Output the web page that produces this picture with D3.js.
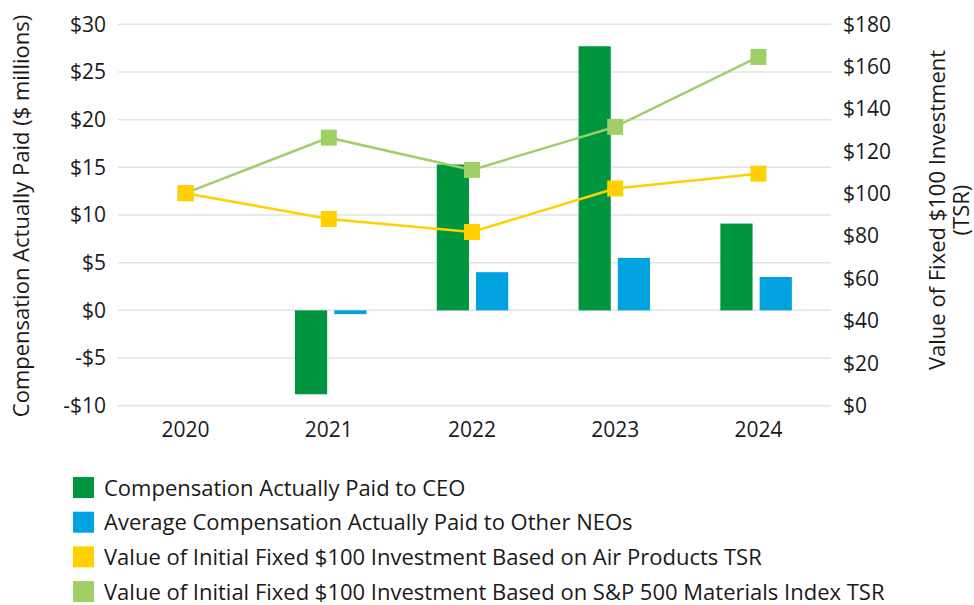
<!DOCTYPE html>
<html>
<head>
<meta charset="utf-8">
<script src="https://cdn.jsdelivr.net/npm/d3@7"></script>
<style>
  html, body { margin: 0; padding: 0; background: #ffffff; }
  svg { display: block; }
  text { font-family: "Open Sans", "Noto Sans", sans-serif; fill: #1a1a1a; }
</style>
</head>
<body>
<svg id="chart" width="974" height="605"></svg>
<script>
// Fiscal years shown on the category axis
const years = ["2020", "2021", "2022", "2023", "2024"];

// Compensation actually paid, $ millions (null = no bar)
const ceoPay = [null, -8.8, 15.3, 27.7, 9.1];
const neoPay = [null, -0.4, 4.0, 5.5, 3.5];

// Value of an initial fixed $100 investment
const apdTsr = [100.3, 88.1, 82.0, 102.5, 109.5];
const spMaterialsTsr = [100.3, 126.5, 111.3, 131.6, 164.6];

// Axis ticks
const leftTicks = [-10, -5, 0, 5, 10, 15, 20, 25, 30];
const rightTicks = [0, 20, 40, 60, 80, 100, 120, 140, 160, 180];

const legendItems = [
  "Compensation Actually Paid to CEO",
  "Average Compensation Actually Paid to Other NEOs",
  "Value of Initial Fixed $100 Investment Based on Air Products TSR",
  "Value of Initial Fixed $100 Investment Based on S&P 500 Materials Index TSR"
];

const colors = {
  ceo: "#00953f",
  neo: "#00a3e0",
  apd: "#ffd100",
  sp: "#a0cf67",
  grid: "#e3e3e3"
};
const legendColors = [colors.ceo, colors.neo, colors.apd, colors.sp];

const tickFont = 21;
const labelFont = 22;

const svg = d3.select("#chart");
const plot = { left: 118, right: 831, top: 24.3, bottom: 405.7 };

const yLeft = d3.scaleLinear().domain([-10, 30]).range([plot.bottom, plot.top]);
const yRight = d3.scaleLinear().domain([0, 180]).range([plot.bottom, plot.top]);

// Bars and line markers each use a band scale across the plot width
const xBars = d3.scaleBand().domain(years).range([118, 827]);
const xLines = d3.scaleBand().domain(years).range([114, 830]);
const groupWidth = 71.5;
const xSub = d3.scaleBand().domain(["ceo", "neo"]).range([0, groupWidth]).paddingInner(0.18);

// Gridlines
svg.append("g")
  .selectAll("line")
  .data(leftTicks)
  .join("line")
  .attr("x1", plot.left).attr("x2", plot.right)
  .attr("y1", d => yLeft(d)).attr("y2", d => yLeft(d))
  .attr("stroke", colors.grid).attr("stroke-width", 1.5);

function styleTicks(g) {
  g.select(".domain").remove();
  g.selectAll("text")
    .attr("font-size", tickFont)
    .attr("fill", "#1a1a1a")
    .attr("font-family", "'Open Sans', sans-serif");
}

// Left axis
const leftAxis = d3.axisLeft(yLeft).tickValues(leftTicks)
  .tickFormat(d => (d < 0 ? "-$" + Math.abs(d) : "$" + d))
  .tickSize(0).tickPadding(0);
svg.append("g")
  .attr("transform", "translate(106,0)")
  .call(leftAxis)
  .call(styleTicks);

// Right axis
const rightAxis = d3.axisRight(yRight).tickValues(rightTicks)
  .tickFormat(d => "$" + d).tickSize(0).tickPadding(0);
svg.append("g")
  .attr("transform", "translate(843,0)")
  .call(rightAxis)
  .call(styleTicks);

// Category axis
const xAxis = d3.axisBottom(xLines).tickSize(0).tickPadding(0);
svg.append("g")
  .attr("transform", "translate(0,422)")
  .call(xAxis)
  .call(styleTicks);

// Bars
const barData = [];
years.forEach((y, i) => {
  if (ceoPay[i] != null) barData.push({ year: y, key: "ceo", value: ceoPay[i] });
  if (neoPay[i] != null) barData.push({ year: y, key: "neo", value: neoPay[i] });
});
svg.append("g")
  .selectAll("rect")
  .data(barData)
  .join("rect")
  .attr("x", d => xBars(d.year) + xBars.bandwidth() / 2 - groupWidth / 2 + xSub(d.key))
  .attr("width", xSub.bandwidth())
  .attr("y", d => yLeft(Math.max(0, d.value)))
  .attr("height", d => Math.abs(yLeft(d.value) - yLeft(0)))
  .attr("fill", d => colors[d.key]);

// TSR lines with square markers
function drawSeries(values, color) {
  const pts = values.map((v, i) => [xLines(years[i]) + xLines.bandwidth() / 2, yRight(v)]);
  svg.append("path")
    .attr("d", d3.line()(pts))
    .attr("fill", "none")
    .attr("stroke", color)
    .attr("stroke-width", 2.5);
  svg.append("g")
    .selectAll("rect")
    .data(pts)
    .join("rect")
    .attr("x", d => d[0] - 8).attr("y", d => d[1] - 8)
    .attr("width", 16).attr("height", 16)
    .attr("fill", color);
}
drawSeries(spMaterialsTsr, colors.sp);
drawSeries(apdTsr, colors.apd);

// Axis titles
svg.append("text")
  .attr("transform", "translate(29,216) rotate(-90)")
  .attr("text-anchor", "middle")
  .attr("font-size", labelFont)
  .text("Compensation Actually Paid ($ millions)");

const rightTitle = svg.append("text")
  .attr("transform", "translate(945,210) rotate(-90)")
  .attr("text-anchor", "middle")
  .attr("font-size", labelFont);
rightTitle.append("tspan").attr("x", 0).attr("dy", 0).text("Value of Fixed $100 Investment");
rightTitle.append("tspan").attr("x", 0).attr("dy", 24).text("(TSR)");

// Legend
const legend = svg.append("g").attr("transform", "translate(73,477)");
legendItems.forEach((label, i) => {
  const row = legend.append("g").attr("transform", `translate(0,${i * 34.7})`);
  row.append("rect").attr("width", 21).attr("height", 21).attr("fill", legendColors[i]);
  row.append("text").attr("x", 31).attr("y", 18.5).attr("font-size", labelFont).text(label);
});
</script>
</body>
</html>
